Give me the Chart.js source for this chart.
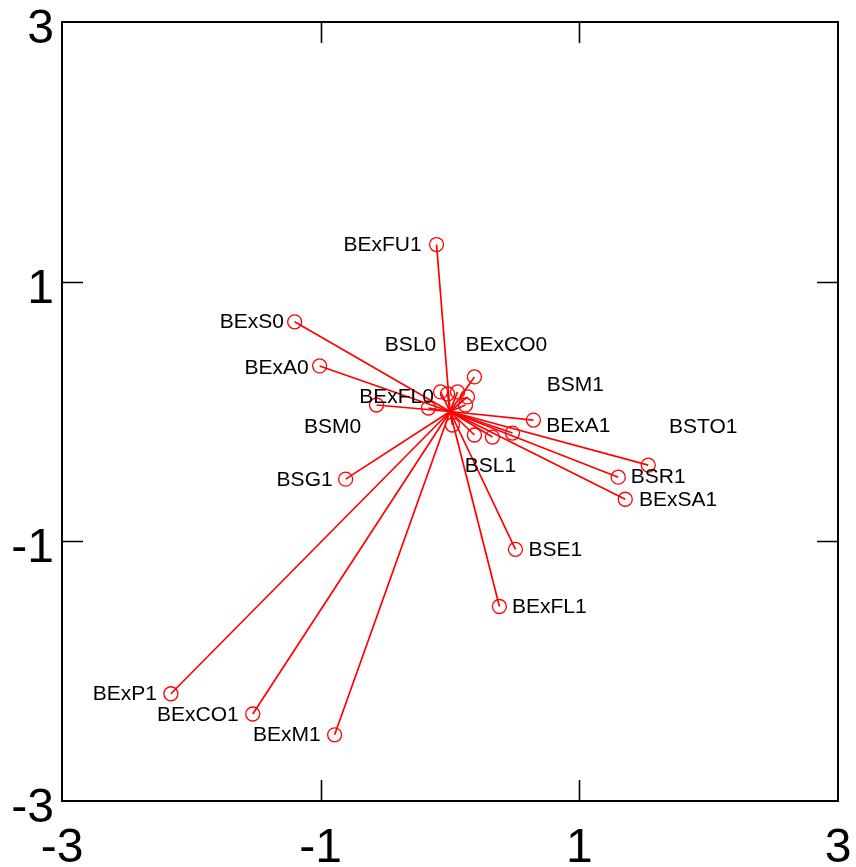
<!DOCTYPE html>
<html>
<head>
<meta charset="utf-8">
<script src="https://cdn.jsdelivr.net/npm/chart.js@4/dist/chart.umd.min.js"></script>
<style>
  html, body { margin: 0; padding: 0; background: #ffffff; }
  #wrap { width: 856px; height: 867px; }
</style>
</head>
<body>
<div id="wrap"><canvas id="c" width="856" height="867"></canvas></div>
<script>
// Biplot vectors: coordinates of each category on the two dimensions
const names = [
  'BExFU1', 'BExS0', 'BExA0', 'BExCO0', 'BExFL0', 'BExA1', 'BSTO1', 'BSR1',
  'BExSA1', 'BSG1', 'BSE1', 'BExFL1', 'BExP1', 'BExCO1', 'BExM1', 'BSL1',
  '', 'BSM1', 'BSL0', '', '', '', '', 'BSM0', ''
];
const dim1 = [
  -0.104, -1.201, -1.008, 0.189, -0.568, 0.645, 1.533, 1.301,
  1.355, -0.807, 0.506, 0.382, -2.158, -1.525, -0.892, 0.189,
  0.328, 0.483, -0.073, -0.019, 0.058, 0.135, 0.120, -0.166, 0.019
];
const dim2 = [
  1.286, 0.691, 0.351, 0.266, 0.050, -0.066, -0.413, -0.506,
  -0.676, -0.521, -1.062, -1.502, -2.174, -2.330, -2.490, -0.181,
  -0.197, -0.166, 0.151, 0.135, 0.151, 0.112, 0.050, 0.027, -0.104
];
// Where each category name is written (text centre, in plot units)
const labelX = [
  -0.521, -1.533, -1.340, 0.436, -0.413, 0.992, 1.958, 1.610,
  1.764, -1.124, 0.815, 0.768, -2.514, -1.950, -1.262, 0.313,
  null, 0.969, -0.305, null, null, null, null, -0.907, null
];
const labelY = [
  1.278, 0.691, 0.336, 0.514, 0.112, -0.112, -0.120, -0.506,
  -0.683, -0.529, -1.069, -1.510, -2.174, -2.336, -2.490, -0.421,
  null, 0.205, 0.514, null, null, null, null, -0.120, null
];
const tickValues = [-3, -1, 1, 3];
const innerTicks = [-1, 1];

const RED = '#ff0000';

const datasets = dim1.map((x, i) => ({
  label: names[i],
  data: [{ x: 0, y: 0 }, { x: x, y: dim2[i] }],
  showLine: true,
  borderColor: RED,
  borderWidth: 1.7,
  pointRadius: ctx => (ctx.dataIndex === 1 ? 7 : 0),
  pointBorderColor: RED,
  pointBackgroundColor: 'rgba(0,0,0,0)',
  pointBorderWidth: 1.3,
  pointHoverRadius: 7
}));

const framePlugin = {
  id: 'frameAndLabels',
  afterDatasetsDraw(chart) {
    const { ctx, chartArea: a, scales } = chart;
    const sx = scales.x, sy = scales.y;
    ctx.save();

    // category names
    ctx.fillStyle = '#000000';
    ctx.font = '21px "Liberation Sans", Arial, sans-serif';
    ctx.textAlign = 'center';
    ctx.textBaseline = 'middle';
    names.forEach((n, i) => {
      if (!n || labelX[i] === null) return;
      ctx.fillText(n, sx.getPixelForValue(labelX[i]), sy.getPixelForValue(labelY[i]));
    });

    // frame
    ctx.strokeStyle = '#000000';
    ctx.lineWidth = 2;
    ctx.strokeRect(a.left, a.top, a.right - a.left, a.bottom - a.top);

    // inward ticks on all four sides
    const len = 21;
    ctx.beginPath();
    innerTicks.forEach(v => {
      const px = Math.round(sx.getPixelForValue(v)) + 0.5;
      ctx.moveTo(px, a.bottom); ctx.lineTo(px, a.bottom - len);
      ctx.moveTo(px, a.top); ctx.lineTo(px, a.top + len);
      const py = Math.round(sy.getPixelForValue(v)) + 0.5;
      ctx.moveTo(a.left, py); ctx.lineTo(a.left + len, py);
      ctx.moveTo(a.right, py); ctx.lineTo(a.right - len, py);
    });
    ctx.lineWidth = 1.6;
    ctx.stroke();

    // tick labels
    ctx.font = '48px "Liberation Sans", Arial, sans-serif';
    ctx.textBaseline = 'alphabetic';
    ctx.textAlign = 'center';
    tickValues.forEach(v => {
      ctx.fillText(String(v), sx.getPixelForValue(v), a.bottom + 61);
    });
    ctx.textAlign = 'right';
    tickValues.forEach(v => {
      ctx.fillText(String(v), a.left - 8, sy.getPixelForValue(v) + 21);
    });
    ctx.restore();
  }
};

new Chart(document.getElementById('c'), {
  type: 'scatter',
  data: { datasets },
  options: {
    responsive: false,
    animation: false,
    layout: { padding: { left: 62, right: 18, top: 22, bottom: 66 } },
    plugins: { legend: { display: false }, tooltip: { enabled: false } },
    scales: {
      x: { type: 'linear', min: -3, max: 3, display: false },
      y: { type: 'linear', min: -3, max: 3, display: false }
    }
  },
  plugins: [framePlugin]
});
</script>
</body>
</html>
